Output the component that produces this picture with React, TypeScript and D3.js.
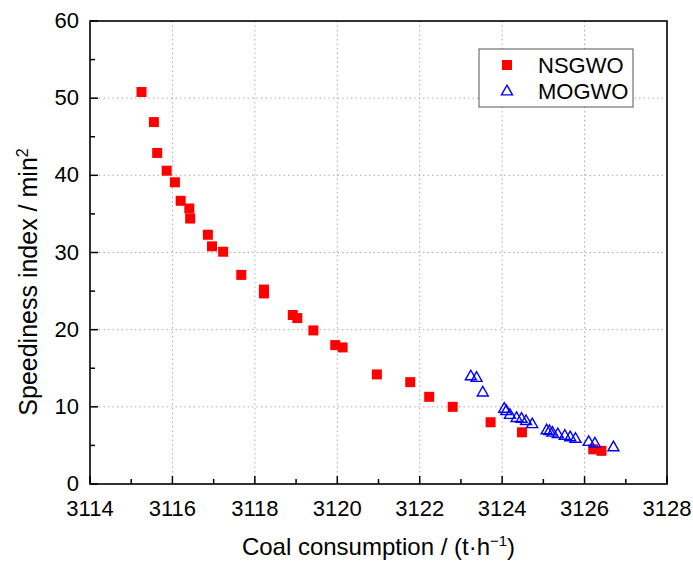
import React from "react";
import * as d3 from "d3";

const nsgwoX = [3115.25, 3115.55, 3115.63, 3115.86, 3116.06, 3116.2, 3116.41, 3116.43, 3116.86, 3116.96, 3117.23, 3117.67, 3118.22, 3118.22, 3118.92, 3119.03, 3119.42, 3119.95, 3120.13, 3120.96, 3121.77, 3122.23, 3122.8, 3123.72, 3124.48, 3126.21, 3126.41];
const nsgwoY = [50.8, 46.9, 42.9, 40.6, 39.1, 36.7, 35.7, 34.4, 32.3, 30.8, 30.1, 27.1, 25.2, 24.7, 21.9, 21.5, 19.9, 18.0, 17.7, 14.2, 13.2, 11.3, 10.0, 8.0, 6.7, 4.5, 4.3];

const mogwoX = [3123.24, 3123.38, 3123.53, 3124.05, 3124.1, 3124.19, 3124.35, 3124.47, 3124.58, 3124.73, 3125.08, 3125.15, 3125.22, 3125.35, 3125.52, 3125.65, 3125.78, 3126.1, 3126.25, 3126.7];
const mogwoY = [14.0, 13.8, 11.9, 9.8, 9.5, 9.0, 8.6, 8.5, 8.2, 7.8, 7.0, 6.9, 6.7, 6.5, 6.3, 6.1, 5.9, 5.5, 5.3, 4.8];

const xTicks = [3114, 3116, 3118, 3120, 3122, 3124, 3126, 3128];
const xMinor = [3115, 3117, 3119, 3121, 3123, 3125, 3127];
const yTicks = [0, 10, 20, 30, 40, 50, 60];
const yMinor = [5, 15, 25, 35, 45, 55];

const FONT = "'Liberation Sans', Arial, sans-serif";

export default function App() {
  const W = 693, H = 565;
  const L = 90, R = 667, T = 21, B = 484;
  const x = d3.scaleLinear().domain([3114, 3128]).range([L, R]);
  const y = d3.scaleLinear().domain([0, 60]).range([B, T]);
  const sq = 10;
  const tri = (cx: number, cy: number, s = 11) => {
    const h = s * 0.87;
    return `M${cx},${cy - h * 0.6}L${cx + s / 2},${cy + h * 0.4}L${cx - s / 2},${cy + h * 0.4}Z`;
  };
  return (
    <svg width={W} height={H} style={{ position: "absolute", left: 0, top: 0, background: "#fff" }} fontFamily={FONT}>
      <rect x={0} y={0} width={W} height={H} fill="#fff" />
      {xTicks.slice(1, -1).map((t) => (
        <line key={"gx" + t} x1={x(t)} x2={x(t)} y1={T} y2={B} stroke="#aaa" strokeWidth={1} strokeDasharray="1.5,3" />
      ))}
      {yTicks.slice(1, -1).map((t) => (
        <line key={"gy" + t} x1={L} x2={R} y1={y(t)} y2={y(t)} stroke="#aaa" strokeWidth={1} strokeDasharray="1.5,3" />
      ))}
      {xTicks.map((t) => (
        <line key={"tx" + t} x1={x(t)} x2={x(t)} y1={B} y2={B - 8} stroke="#000" strokeWidth={1.5} />
      ))}
      {xMinor.map((t) => (
        <line key={"mx" + t} x1={x(t)} x2={x(t)} y1={B} y2={B - 5} stroke="#000" strokeWidth={1.5} />
      ))}
      {yTicks.map((t) => (
        <line key={"ty" + t} x1={L} x2={L + 8} y1={y(t)} y2={y(t)} stroke="#000" strokeWidth={1.5} />
      ))}
      {yMinor.map((t) => (
        <line key={"my" + t} x1={L} x2={L + 5} y1={y(t)} y2={y(t)} stroke="#000" strokeWidth={1.5} />
      ))}
      {xTicks.map((t) => (
        <text key={"lx" + t} x={x(t)} y={B + 32} fontSize={22} textAnchor="middle" fill="#000">{t}</text>
      ))}
      {yTicks.map((t) => (
        <text key={"ly" + t} x={L - 11} y={y(t) + 7} fontSize={22} textAnchor="end" fill="#000">{t}</text>
      ))}
      {nsgwoX.map((v, i) => (
        <rect key={"n" + i} x={x(v) - sq / 2} y={y(nsgwoY[i]) - sq / 2} width={sq} height={sq} fill="#ff0000" />
      ))}
      {mogwoX.map((v, i) => (
        <path key={"m" + i} d={tri(x(v), y(mogwoY[i]))} fill="none" stroke="#0000ff" strokeWidth={1.4} />
      ))}
      <rect x={L} y={T} width={R - L} height={B - T} fill="none" stroke="#000" strokeWidth={1.6} />
      <g>
        <rect x={479} y={49} width={154} height={58} fill="#fff" stroke="#555" strokeWidth={1} />
        <rect x={507 - 5} y={65 - 5} width={10} height={10} fill="#ff0000" />
        <path d={tri(507, 91)} fill="none" stroke="#0000ff" strokeWidth={1.4} />
        <text x={538} y={73} fontSize={22} fill="#000">NSGWO</text>
        <text x={538} y={99} fontSize={22} fill="#000">MOGWO</text>
      </g>
      <text x={(L + R) / 2} y={555} fontSize={24} textAnchor="middle" fill="#000">
        Coal consumption / (t·h<tspan dy={-9} fontSize={15}>−1</tspan><tspan dy={9}>)</tspan>
      </text>
      <text transform={`translate(37,282) rotate(-90)`} fontSize={25} textAnchor="middle" fill="#000">
        Speediness index / min<tspan dy={-9} fontSize={16}>2</tspan>
      </text>
    </svg>
  );
}
